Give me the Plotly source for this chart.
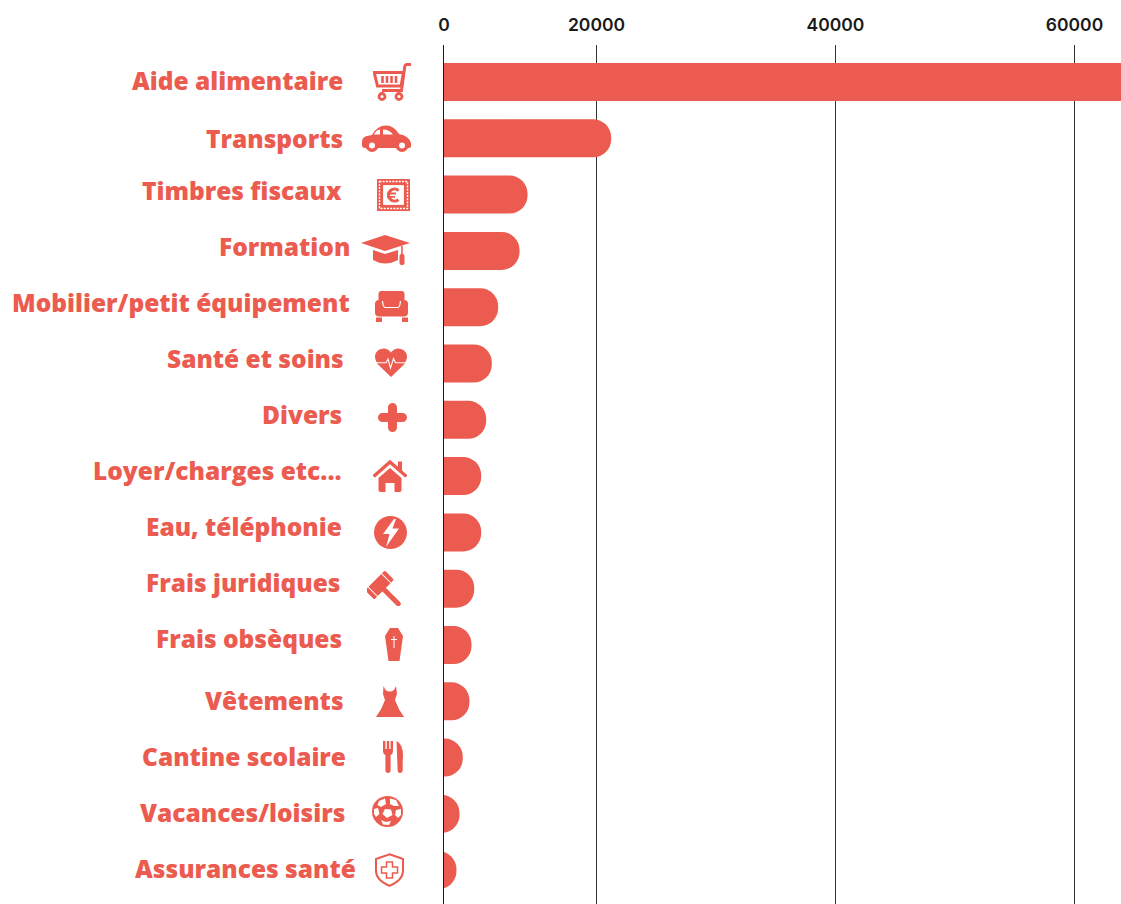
import base64
import plotly.graph_objects as go

categories = ["Aide alimentaire", "Transports", "Timbres fiscaux", "Formation",
              "Mobilier/petit équipement", "Santé et soins", "Divers", "Loyer/charges etc...",
              "Eau, téléphonie", "Frais juridiques", "Frais obsèques", "Vêtements",
              "Cantine scolaire", "Vacances/loisirs", "Assurances santé"]
values = [66000, 21230, 14230, 13560, 11770, 11240, 10770, 10350,
          10350, 9770, 9540, 9370, 8810, 8540, 8280]
tick_values = [7238, 20000, 40000, 60000]
tick_labels = ["0", "20000", "40000", "60000"]

# layout helpers (pixels in the 1121x904 page)
W, H = 1121, 904
L, T = 444, 45
RED = "#EC5B4F"
label_right = [343, 343, 342, 350, 350, 344, 342, 342, 342, 341, 342, 344, 346, 345, 356]
label_mid = [80, 138, 190, 246, 302, 358, 414, 470, 526, 582, 638, 700, 756, 812, 868]

def px(x):
    return (x - L) / (W - L)

def py(y):
    return 1 - (y - T) / (H - T)

C, K = RED, "#ffffff"
icons = [
 (373, 63, 38, 38, f'''<g fill="none" stroke="{C}" stroke-width="3"><path d="M38 1.5H34Q32 1.5 31.7 4L28.5 27.5H9"/><path d="M1.2 9.5H30.5L28 23H4.5Z"/><path d="M9.5 13V20M14 13V20M18.5 13V20M23 13V20" stroke-width="2.6"/></g><g fill="{K}" stroke="{C}" stroke-width="2.8"><circle cx="9" cy="33.5" r="3"/><circle cx="26" cy="33.5" r="3"/></g>'''),
 (362, 125, 49, 27, f'''<path fill="{C}" d="M0 17Q0 12 5 11L10 10Q15 .5 24 .5Q32 .5 37 9Q47 11 49 18V21Q49 23 46 23H3Q0 23 0 20Z"/><path fill="{K}" d="M12 9.5Q14 5 18 4.5V9.5ZM21 4.5Q27 4.5 31 9.5H21Z"/><circle cx="10" cy="20.5" r="6.5" fill="{C}"/><circle cx="40" cy="20.5" r="6.5" fill="{C}"/><circle cx="10" cy="20.5" r="3" fill="{K}"/><circle cx="40" cy="20.5" r="3" fill="{K}"/>'''),
 (377, 179, 33, 32, f'''<rect width="33" height="32" fill="{C}"/><rect x="2.5" y="2.5" width="28" height="27" fill="none" stroke="{K}" stroke-width="1.4" stroke-dasharray="2 1.2"/><rect x="5.5" y="5.5" width="22" height="21" fill="{K}" stroke="{C}" stroke-width="1.2"/><path d="M21.5 11.5A6 6 0 1 0 21.5 20.5" fill="none" stroke="{C}" stroke-width="3"/><path d="M10 14.5H19M10 17.8H18" stroke="{C}" stroke-width="1.8"/>'''),
 (361, 235, 49, 30, f'''<path fill="{C}" d="M0 8L24 0L49 8L24 16Z"/><path fill="{C}" d="M12 15L24 19L37 15V25Q24 32 12 25Z"/><path d="M41 11V22" stroke="{C}" stroke-width="1.6"/><rect x="38.5" y="19" width="5" height="11" rx="2" fill="{C}"/>'''),
 (374, 291, 35, 31, f'''<rect x="4.5" width="26" height="14" rx="3" fill="{C}"/><rect x="1" y="9" width="33" height="16.5" rx="4" fill="{C}"/><path d="M8.5 10Q9 16 11 16.5H24Q26 16 26.5 10" fill="none" stroke="{K}" stroke-width="1.2"/><rect x="2" y="26.5" width="6" height="4.5" fill="{C}"/><rect x="28" y="26.5" width="6" height="4.5" fill="{C}"/>'''),
 (375, 348, 32, 29, f'''<path fill="{C}" d="M16 29L2.5 16Q-3 7 3.5 2Q11 -2 16 4.5Q21 -2 28.5 2Q35 7 29.5 16Z"/><path d="M1 14.7H11L13 11L15.5 20L18.5 10.5L20.5 14.7H31" fill="none" stroke="{K}" stroke-width="1.1"/>'''),
 (378, 403, 29, 29, f'''<path d="M14.5 4.5V24.5M4.5 14.5H24.5" stroke="{C}" stroke-width="9" stroke-linecap="round"/>'''),
 (373, 460, 34, 32, f'''<rect x="25" y="1.5" width="4" height="9" fill="{C}"/><path d="M1.7 15.5L17 2L32.3 15.5" fill="none" stroke="{C}" stroke-width="3.4" stroke-linecap="round"/><path fill="{C}" d="M5.5 18L17 8L28.5 18V30Q28.5 32 26.5 32H21.5V23H12.5V32H7.5Q5.5 32 5.5 30Z"/>'''),
 (374, 516, 33, 33, f'''<circle cx="16.5" cy="16.5" r="16.5" fill="{C}"/><path fill="{K}" d="M20 3L9 18H15.5L12 31L25 12.5H18.5L22 3Z"/>'''),
 (367, 571, 36, 35, f'''<g transform="translate(12.5 14) rotate(45)"><rect x="-6.5" y="-14" width="13" height="28" rx="1.5" fill="{C}"/><path d="M-7 -9.5H7M-7 9.5H7" stroke="{K}" stroke-width="1"/><rect x="0" y="-2.5" width="29" height="5" rx="2.5" fill="{C}"/></g>'''),
 (385, 628, 18, 33, f'''<path fill="{C}" d="M5 0H13L18 8L14.5 33H3.5L0 8Z"/><path d="M9 8V20M6 11.5H12" stroke="{K}" stroke-width="1"/>'''),
 (376, 686, 28, 31, f'''<path fill="{C}" d="M7.5 0L9.5 4Q14 7 18 4L20 0L21 8L19 14Q22 23 28 31H0Q6 23 9 14L7 8Z"/>'''),
 (383, 741, 20, 32, f'''<path fill="{C}" d="M0 0H2.4V8H3.8V0H6.2V8H7.6V0H10V10Q10 13 7.6 14V30Q7 32 5 32Q3 32 2.4 30V14Q0 13 0 10ZM13.5 0Q20 3 20 15V17H19.7V30Q19 32 17 32Q15 32 14.7 30Z"/>'''),
 (372, 796, 31, 31, f'''<circle cx="15.5" cy="15.5" r="15.5" fill="{C}"/><g fill="{K}"><path d="M13 13L19 13.5L20.5 19L15 22L10.5 18Z"/><path d="M7 5L13 2.5L14 8L9 11L5.5 9Z"/><path d="M18 2.5L24 4L27 10L22 10L18 8Z"/><path d="M2 13L6 12L7.5 18L4 21L2 18Z"/><path d="M24 14L29 13L29 19L26 22L23 19Z"/><path d="M9 24L14 26L19 25L17 29L11 28.5Z"/></g>'''),
 (375, 853, 29, 34, f'''<path d="M14.5 1.2L28 6V18Q28 27 14.5 32.8Q1 27 1 18V6Z" fill="{K}" stroke="{C}" stroke-width="2"/><path d="M11.5 9H17.5V14H22.5V20H17.5V25H11.5V20H6.5V14H11.5Z" fill="{K}" stroke="{C}" stroke-width="1.5"/>'''),
]

images = []
for x0, y0, w, h, body in icons:
    svg = f'<svg xmlns="http://www.w3.org/2000/svg" width="{w}" height="{h}" viewBox="0 0 {w} {h}">{body}</svg>'
    src = "data:image/svg+xml;base64," + base64.b64encode(svg.encode()).decode()
    images.append(dict(source=src, xref="paper", yref="paper", x=px(x0), y=py(y0),
                       sizex=w / (W - L), sizey=h / (H - T), sizing="stretch",
                       xanchor="left", yanchor="top", layer="above"))

annotations = [dict(text=c, xref="paper", yref="paper", x=px(r + 2), y=py(m), xanchor="right",
                    yanchor="middle", showarrow=False,
                    font=dict(family="Open Sans", size=24.5, color=RED, weight=800))
               for c, r, m in zip(categories, label_right, label_mid)]

fig = go.Figure(go.Bar(x=values, y=categories, orientation="h", width=0.675,
                       marker=dict(color=RED, line_width=0), hoverinfo="x+y"))

fig.update_layout(
    width=W, height=H, margin=dict(l=L, r=0, t=T, b=0),
    paper_bgcolor="white", plot_bgcolor="white", showlegend=False,
    barcornerradius=18, images=images, annotations=annotations,
    xaxis=dict(side="top", range=[7238, 63891], tickmode="array", tickvals=tick_values,
               ticktext=tick_labels, showgrid=True, gridcolor="#333333", gridwidth=1,
               zeroline=False, ticks="", ticklabelstandoff=10,
               tickfont=dict(family="Inter", size=17.5, color="#1a1a1a", weight=600)),
    yaxis=dict(type="category", range=[14.6, -0.657], showticklabels=False, ticks="",
               showgrid=False, zeroline=False, showline=True, linecolor="#1a1a1a", linewidth=1),
)

fig.write_html("out.html", post_script="document.body.style.margin='0';",
               config=dict(displayModeBar=False))
